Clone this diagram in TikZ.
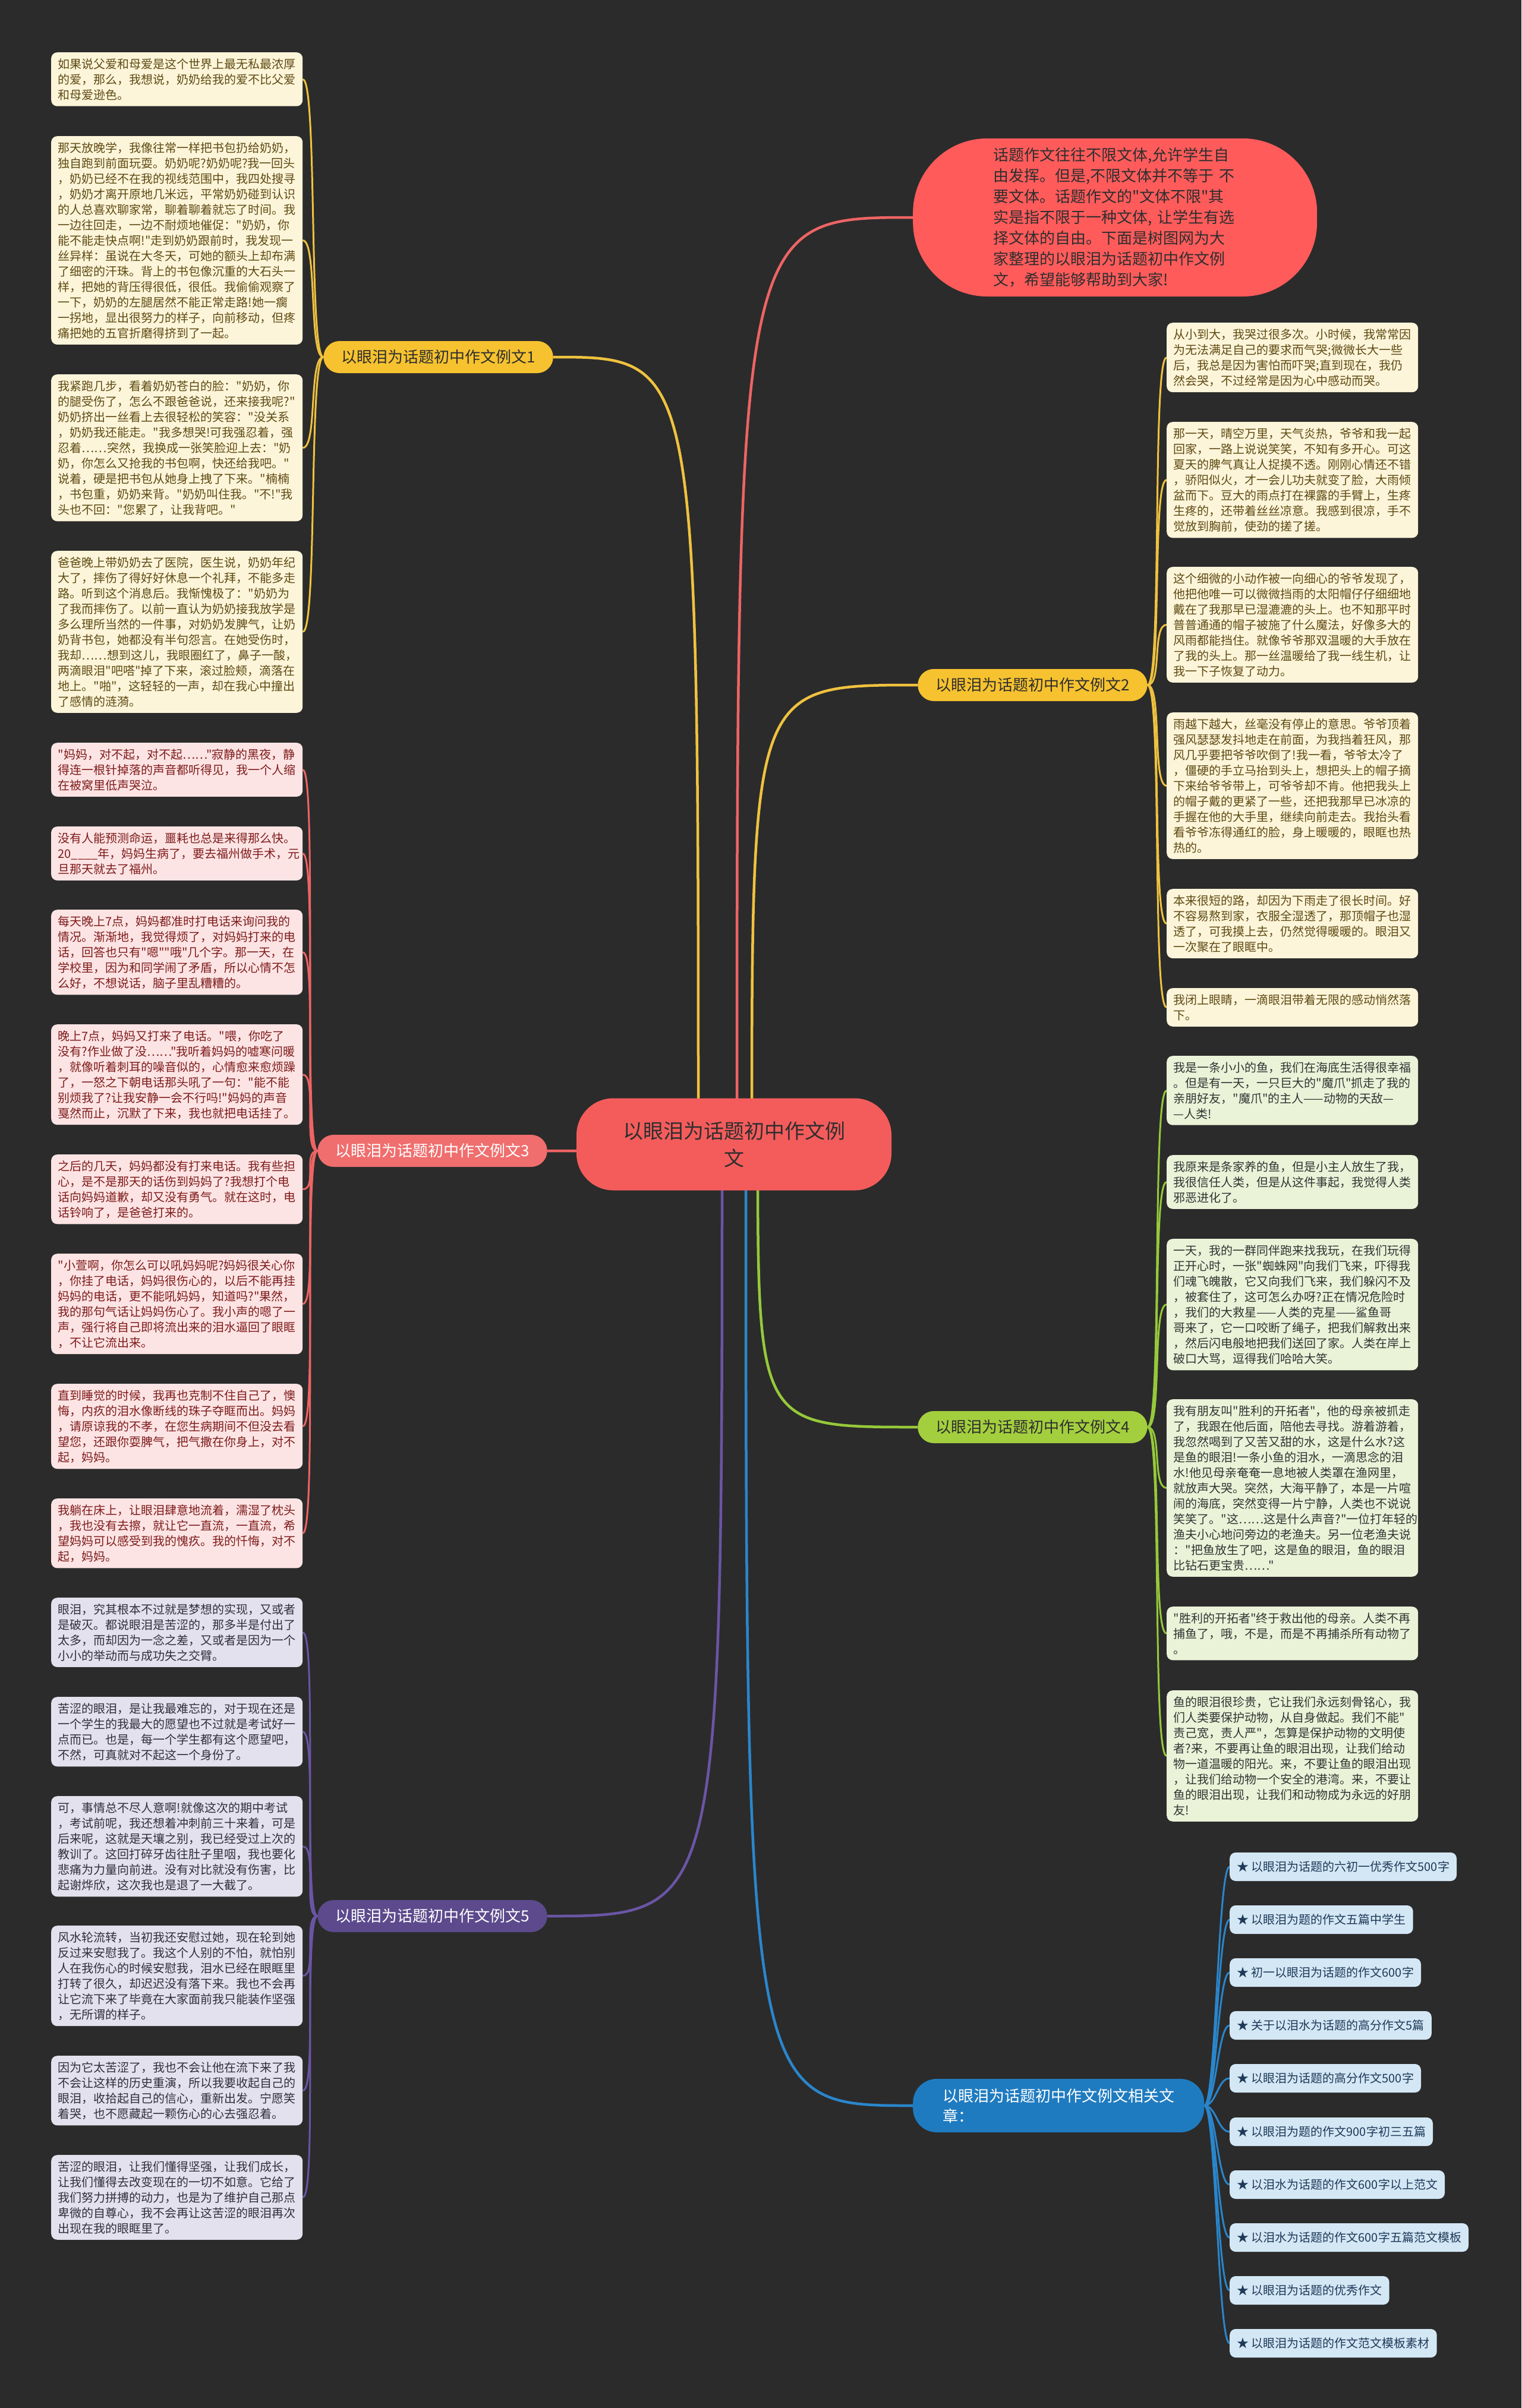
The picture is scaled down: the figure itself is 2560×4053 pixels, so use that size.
\documentclass[tikz,border=0pt]{standalone}
\usepackage{fontspec}
\setmainfont{Noto Sans CJK SC}[Ligatures=TeXOff]
\usetikzlibrary{calc}
\pgfdeclarelayer{background}
\pgfsetlayers{background,main}
\definecolor{bgdark}{HTML}{2B2B2B}
\definecolor{rootred}{HTML}{F45C5C}
\definecolor{introred}{HTML}{FF5B5B}
\definecolor{darktext}{HTML}{2E2E2E}
\definecolor{ylwlab}{HTML}{F6C22F}
\definecolor{ylwline}{HTML}{EFC23F}
\definecolor{ylwleaf}{HTML}{FDF5DA}
\definecolor{ylwtext}{HTML}{5E4A12}
\definecolor{redlab}{HTML}{F06E6E}
\definecolor{redline}{HTML}{EE6464}
\definecolor{redleaf}{HTML}{FDE4E4}
\definecolor{redtext}{HTML}{7E1B1B}
\definecolor{grnlab}{HTML}{A3CF3E}
\definecolor{grnline}{HTML}{96C93A}
\definecolor{grnleaf}{HTML}{EAF3D8}
\definecolor{grntext}{HTML}{333333}
\definecolor{purlab}{HTML}{5C4A8C}
\definecolor{purline}{HTML}{6A55A5}
\definecolor{purleaf}{HTML}{E4E1EE}
\definecolor{purtext}{HTML}{2F2F3A}
\definecolor{blulab}{HTML}{1F7BC0}
\definecolor{bluline}{HTML}{2A86CC}
\definecolor{bluleaf}{HTML}{D4E7F5}
\definecolor{blutext}{HTML}{1E3A58}
\tikzstyle{rootbox} = [fill=rootred, text=darktext, rounded corners=62pt,
  minimum width=530pt, minimum height=155pt, align=center,
  font=\fontsize{34}{46}\selectfont]
\tikzstyle{introbox} = [fill=introred, text=darktext, rounded corners=125pt,
  text width=410pt, inner xsep=135pt, minimum height=266pt, align=left,
  font=\fontsize{26}{35}\selectfont]
\tikzstyle{branch} = [rounded corners=27pt, minimum height=54pt, inner xsep=30pt,
  font=\fontsize{26}{34}\selectfont]
\tikzstyle{leaf} = [anchor=north west, rounded corners=10pt, text width=400pt,
  inner xsep=11.5pt, inner ysep=10pt, align=left,
  font=\fontsize{20}{26}\selectfont]
\tikzstyle{yleaf} = [leaf, fill=ylwleaf, text=ylwtext]
\tikzstyle{rleaf} = [leaf, fill=redleaf, text=redtext]
\tikzstyle{gleaf} = [leaf, fill=grnleaf, text=grntext]
\tikzstyle{pleaf} = [leaf, fill=purleaf, text=purtext]
\tikzstyle{item} = [anchor=west, fill=bluleaf, text=blutext, rounded corners=10pt,
  minimum height=48pt, inner xsep=12pt, font=\fontsize{20}{26}\selectfont]
\tikzstyle{limb} = [line width=4.5pt,
  to path={.. controls (\tikztostart |- \tikztotarget) .. (\tikztotarget)}]
\tikzstyle{twig} = [line width=3pt]
\begin{document}
\begin{tikzpicture}[x=1pt, y=-1pt]
    \node[rootbox] (root) at (1235,1926) {以眼泪为话题初中作文例\\文};
    \node[introbox, anchor=west] (intro) at (1536,366)
        {话题作文往往不限文体,允许学生自\\由发挥。但是,不限文体并不等于 不\\要文体。话题作文的"文体不限"其\\实是指不限于一种文体, 让学生有选\\择文体的自由。下面是树图网为大\\家整理的以眼泪为话题初中作文例\\文，希望能够帮助到大家!};

    \node[branch, fill=ylwlab, text=darktext, anchor=east] (ex1) at (931,601) {以眼泪为话题初中作文例文1};
    \node[branch, fill=ylwlab, text=darktext, anchor=west] (ex2) at (1544,1153) {以眼泪为话题初中作文例文2};
    \node[branch, fill=redlab, text=white, anchor=east] (ex3) at (921,1937) {以眼泪为话题初中作文例文3};
    \node[branch, fill=grnlab, text=darktext, anchor=west] (ex4) at (1544,2402) {以眼泪为话题初中作文例文4};
    \node[branch, fill=purlab, text=white, anchor=east] (ex5) at (921,3225) {以眼泪为话题初中作文例文5};
    \node[branch, fill=blulab, text=white, anchor=west, align=left, rounded corners=40pt,
        minimum height=90pt, inner xsep=50pt] (rel) at (1536,3544) {以眼泪为话题初中作文例文相关文\\章：};

    \node[yleaf] (a1) at (86,88) {如果说父爱和母爱是这个世界上最无私最浓厚\\的爱，那么，我想说，奶奶给我的爱不比父爱\\和母爱逊色。};
    \node[yleaf] (a2) at (86,229) {那天放晚学，我像往常一样把书包扔给奶奶，\\独自跑到前面玩耍。奶奶呢?奶奶呢?我一回头\\，奶奶已经不在我的视线范围中，我四处搜寻\\，奶奶才离开原地几米远，平常奶奶碰到认识\\的人总喜欢聊家常，聊着聊着就忘了时间。我\\一边往回走，一边不耐烦地催促："奶奶，你\\能不能走快点啊!"走到奶奶跟前时，我发现一\\丝异样：虽说在大冬天，可她的额头上却布满\\了细密的汗珠。背上的书包像沉重的大石头一\\样，把她的背压得很低，很低。我偷偷观察了\\一下，奶奶的左腿居然不能正常走路!她一瘸\\一拐地，显出很努力的样子，向前移动，但疼\\痛把她的五官折磨得挤到了一起。};
    \node[yleaf] (a3) at (86,630) {我紧跑几步，看着奶奶苍白的脸："奶奶，你\\的腿受伤了，怎么不跟爸爸说，还来接我呢?"\\奶奶挤出一丝看上去很轻松的笑容："没关系\\，奶奶我还能走。"我多想哭!可我强忍着，强\\忍着……突然，我换成一张笑脸迎上去："奶\\奶，你怎么又抢我的书包啊，快还给我吧。"\\说着，硬是把书包从她身上拽了下来。"楠楠\\，书包重，奶奶来背。"奶奶叫住我。"不!"我\\头也不回："您累了，让我背吧。"};
    \node[yleaf] (a4) at (86,927) {爸爸晚上带奶奶去了医院，医生说，奶奶年纪\\大了，摔伤了得好好休息一个礼拜，不能多走\\路。听到这个消息后。我惭愧极了："奶奶为\\了我而摔伤了。以前一直认为奶奶接我放学是\\多么理所当然的一件事，对奶奶发脾气，让奶\\奶背书包，她都没有半句怨言。在她受伤时，\\我却……想到这儿，我眼圈红了，鼻子一酸，\\两滴眼泪"吧嗒"掉了下来，滚过脸颊，滴落在\\地上。"啪"，这轻轻的一声，却在我心中撞出\\了感情的涟漪。};

    \node[rleaf] (b1) at (86,1250) {"妈妈，对不起，对不起……"寂静的黑夜，静\\得连一根针掉落的声音都听得见，我一个人缩\\在被窝里低声哭泣。};
    \node[rleaf] (b2) at (86,1391) {没有人能预测命运，噩耗也总是来得那么快。\\20\_\_\_\_年，妈妈生病了，要去福州做手术，元\\旦那天就去了福州。};
    \node[rleaf] (b3) at (86,1531) {每天晚上7点，妈妈都准时打电话来询问我的\\情况。渐渐地，我觉得烦了，对妈妈打来的电\\话，回答也只有"嗯""哦"几个字。那一天，在\\学校里，因为和同学闹了矛盾，所以心情不怎\\么好，不想说话，脑子里乱糟糟的。};
    \node[rleaf] (b4) at (86,1724) {晚上7点，妈妈又打来了电话。"喂，你吃了\\没有?作业做了没……"我听着妈妈的嘘寒问暖\\，就像听着刺耳的噪音似的，心情愈来愈烦躁\\了，一怒之下朝电话那头吼了一句："能不能\\别烦我了?让我安静一会不行吗!"妈妈的声音\\戛然而止，沉默了下来，我也就把电话挂了。};
    \node[rleaf] (b5) at (86,1943) {之后的几天，妈妈都没有打来电话。我有些担\\心，是不是那天的话伤到妈妈了?我想打个电\\话向妈妈道歉，却又没有勇气。就在这时，电\\话铃响了，是爸爸打来的。};
    \node[rleaf] (b6) at (86,2110) {"小萱啊，你怎么可以吼妈妈呢?妈妈很关心你\\，你挂了电话，妈妈很伤心的，以后不能再挂\\妈妈的电话，更不能吼妈妈，知道吗?"果然，\\我的那句气话让妈妈伤心了。我小声的嗯了一\\声，强行将自己即将流出来的泪水逼回了眼眶\\，不让它流出来。};
    \node[rleaf] (b7) at (86,2329) {直到睡觉的时候，我再也克制不住自己了，懊\\悔，内疚的泪水像断线的珠子夺眶而出。妈妈\\，请原谅我的不孝，在您生病期间不但没去看\\望您，还跟你耍脾气，把气撒在你身上，对不\\起，妈妈。};
    \node[rleaf] (b8) at (86,2522) {我躺在床上，让眼泪肆意地流着，濡湿了枕头\\，我也没有去擦，就让它一直流，一直流，希\\望妈妈可以感受到我的愧疚。我的忏悔，对不\\起，妈妈。};

    \node[pleaf] (c1) at (86,2689) {眼泪，究其根本不过就是梦想的实现，又或者\\是破灭。都说眼泪是苦涩的，那多半是付出了\\太多，而却因为一念之差，又或者是因为一个\\小小的举动而与成功失之交臂。};
    \node[pleaf] (c2) at (86,2856) {苦涩的眼泪，是让我最难忘的，对于现在还是\\一个学生的我最大的愿望也不过就是考试好一\\点而已。也是，每一个学生都有这个愿望吧，\\不然，可真就对不起这一个身份了。};
    \node[pleaf] (c3) at (86,3023) {可，事情总不尽人意啊!就像这次的期中考试\\，考试前呢，我还想着冲刺前三十来着，可是\\后来呢，这就是天壤之别，我已经受过上次的\\教训了。这回打碎牙齿往肚子里咽，我也要化\\悲痛为力量向前进。没有对比就没有伤害，比\\起谢烨欣，这次我也是退了一大截了。};
    \node[pleaf] (c4) at (86,3241) {风水轮流转，当初我还安慰过她，现在轮到她\\反过来安慰我了。我这个人别的不怕，就怕别\\人在我伤心的时候安慰我，泪水已经在眼眶里\\打转了很久，却迟迟没有落下来。我也不会再\\让它流下来了毕竟在大家面前我只能装作坚强\\，无所谓的样子。};
    \node[pleaf] (c5) at (86,3460) {因为它太苦涩了，我也不会让他在流下来了我\\不会让这样的历史重演，所以我要收起自己的\\眼泪，收拾起自己的信心，重新出发。宁愿笑\\着哭，也不愿藏起一颗伤心的心去强忍着。};
    \node[pleaf] (c6) at (86,3627) {苦涩的眼泪，让我们懂得坚强，让我们成长，\\让我们懂得去改变现在的一切不如意。它给了\\我们努力拼搏的动力，也是为了维护自己那点\\卑微的自尊心，我不会再让这苦涩的眼泪再次\\出现在我的眼眶里了。};

    \node[yleaf] (d1) at (1963,543) {从小到大，我哭过很多次。小时候，我常常因\\为无法满足自己的要求而气哭;微微长大一些\\后，我总是因为害怕而吓哭;直到现在，我仍\\然会哭，不过经常是因为心中感动而哭。};
    \node[yleaf] (d2) at (1963,710) {那一天，晴空万里，天气炎热，爷爷和我一起\\回家，一路上说说笑笑，不知有多开心。可这\\夏天的脾气真让人捉摸不透。刚刚心情还不错\\，骄阳似火，才一会儿功夫就变了脸，大雨倾\\盆而下。豆大的雨点打在裸露的手臂上，生疼\\生疼的，还带着丝丝凉意。我感到很凉，手不\\觉放到胸前，使劲的搓了搓。};
    \node[yleaf] (d3) at (1963,954) {这个细微的小动作被一向细心的爷爷发现了，\\他把他唯一可以微微挡雨的太阳帽仔仔细细地\\戴在了我那早已湿漉漉的头上。也不知那平时\\普普通通的帽子被施了什么魔法，好像多大的\\风雨都能挡住。就像爷爷那双温暖的大手放在\\了我的头上。那一丝温暖给了我一线生机，让\\我一下子恢复了动力。};
    \node[yleaf] (d4) at (1963,1199) {雨越下越大，丝毫没有停止的意思。爷爷顶着\\强风瑟瑟发抖地走在前面，为我挡着狂风，那\\风几乎要把爷爷吹倒了!我一看，爷爷太冷了\\，僵硬的手立马抬到头上，想把头上的帽子摘\\下来给爷爷带上，可爷爷却不肯。他把我头上\\的帽子戴的更紧了一些，还把我那早已冰凉的\\手握在他的大手里，继续向前走去。我抬头看\\看爷爷冻得通红的脸，身上暖暖的，眼眶也热\\热的。};
    \node[yleaf] (d5) at (1963,1496) {本来很短的路，却因为下雨走了很长时间。好\\不容易熬到家，衣服全湿透了，那顶帽子也湿\\透了，可我摸上去，仍然觉得暖暖的。眼泪又\\一次聚在了眼眶中。};
    \node[yleaf] (d6) at (1963,1663) {我闭上眼睛，一滴眼泪带着无限的感动悄然落\\下。};

    \node[gleaf] (e1) at (1963,1777) {我是一条小小的鱼，我们在海底生活得很幸福\\。但是有一天，一只巨大的"魔爪"抓走了我的\\亲朋好友，"魔爪"的主人——动物的天敌—\\—人类!};
    \node[gleaf] (e2) at (1963,1944) {我原来是条家养的鱼，但是小主人放生了我，\\我很信任人类，但是从这件事起，我觉得人类\\邪恶进化了。};
    \node[gleaf] (e3) at (1963,2085) {一天，我的一群同伴跑来找我玩，在我们玩得\\正开心时，一张"蜘蛛网"向我们飞来，吓得我\\们魂飞魄散，它又向我们飞来，我们躲闪不及\\，被套住了，这可怎么办呀?正在情况危险时\\，我们的大救星——人类的克星——鲨鱼哥\\哥来了，它一口咬断了绳子，把我们解救出来\\，然后闪电般地把我们送回了家。人类在岸上\\破口大骂，逗得我们哈哈大笑。};
    \node[gleaf] (e4) at (1963,2355) {我有朋友叫"胜利的开拓者"，他的母亲被抓走\\了，我跟在他后面，陪他去寻找。游着游着，\\我忽然喝到了又苦又甜的水，这是什么水?这\\是鱼的眼泪!一条小鱼的泪水，一滴思念的泪\\水!他见母亲奄奄一息地被人类罩在渔网里，\\就放声大哭。突然，大海平静了，本是一片喧\\闹的海底，突然变得一片宁静，人类也不说说\\笑笑了。"这……这是什么声音?"一位打年轻的\\渔夫小心地问旁边的老渔夫。另一位老渔夫说\\："把鱼放生了吧，这是鱼的眼泪，鱼的眼泪\\比钻石更宝贵……"};
    \node[gleaf] (e5) at (1963,2704) {"胜利的开拓者"终于救出他的母亲。人类不再\\捕鱼了，哦，不是，而是不再捕杀所有动物了\\。};
    \node[gleaf] (e6) at (1963,2845) {鱼的眼泪很珍贵，它让我们永远刻骨铭心，我\\们人类要保护动物，从自身做起。我们不能"\\责己宽，责人严"，怎算是保护动物的文明使\\者?来，不要再让鱼的眼泪出现，让我们给动\\物一道温暖的阳光。来，不要让鱼的眼泪出现\\，让我们给动物一个安全的港湾。来，不要让\\鱼的眼泪出现，让我们和动物成为永远的好朋\\友!};

    \node[item] (r1) at (2069,3142) {★ 以眼泪为话题的六初一优秀作文500字};
    \node[item] (r2) at (2069,3231) {★ 以眼泪为题的作文五篇中学生};
    \node[item] (r3) at (2069,3320) {★ 初一以眼泪为话题的作文600字};
    \node[item] (r4) at (2069,3409) {★ 关于以泪水为话题的高分作文5篇};
    \node[item] (r5) at (2069,3498) {★ 以眼泪为话题的高分作文500字};
    \node[item] (r6) at (2069,3588) {★ 以眼泪为题的作文900字初三五篇};
    \node[item] (r7) at (2069,3677) {★ 以泪水为话题的作文600字以上范文};
    \node[item] (r8) at (2069,3766) {★ 以泪水为话题的作文600字五篇范文模板};
    \node[item] (r9) at (2069,3855) {★ 以眼泪为话题的优秀作文};
    \node[item] (r10) at (2069,3944) {★ 以眼泪为话题的作文范文模板素材};

    \coordinate (s0) at (1240,1926);
    \coordinate (s1) at (1175,1926);
    \coordinate (s2) at (1265,1926);
    \coordinate (s4) at (1275,1926);
    \coordinate (s5) at (1215,1926);
    \coordinate (s6) at (1255,1926);

    \begin{pgfonlayer}{background}
    \fill[bgdark] (0,0) rectangle (2560,4053);
    \draw[limb, redline] (s0) to (intro.west);
    \draw[limb, ylwline] (s1) to (ex1.east);
    \draw[limb, ylwline] (s2) to (ex2.west);
    \draw[limb, redline] (root.center) to (ex3.east);
    \draw[limb, grnline] (s4) to (ex4.west);
    \draw[limb, purline] (s5) to (ex5.east);
    \draw[limb, bluline] (s6) to (rel.west);

    \draw[twig, ylwline] (ex1.west) .. controls +(-25,0) and +(25,0) .. (a1.east);
    \draw[twig, ylwline] (ex1.west) .. controls +(-25,0) and +(25,0) .. (a2.east);
    \draw[twig, ylwline] (ex1.west) .. controls +(-25,0) and +(25,0) .. (a3.east);
    \draw[twig, ylwline] (ex1.west) .. controls +(-25,0) and +(25,0) .. (a4.east);
    \draw[twig, redline] (ex3.west) .. controls +(-25,0) and +(25,0) .. (b1.east);
    \draw[twig, redline] (ex3.west) .. controls +(-25,0) and +(25,0) .. (b2.east);
    \draw[twig, redline] (ex3.west) .. controls +(-25,0) and +(25,0) .. (b3.east);
    \draw[twig, redline] (ex3.west) .. controls +(-25,0) and +(25,0) .. (b4.east);
    \draw[twig, redline] (ex3.west) .. controls +(-25,0) and +(25,0) .. (b5.east);
    \draw[twig, redline] (ex3.west) .. controls +(-25,0) and +(25,0) .. (b6.east);
    \draw[twig, redline] (ex3.west) .. controls +(-25,0) and +(25,0) .. (b7.east);
    \draw[twig, redline] (ex3.west) .. controls +(-25,0) and +(25,0) .. (b8.east);
    \draw[twig, purline] (ex5.west) .. controls +(-25,0) and +(25,0) .. (c1.east);
    \draw[twig, purline] (ex5.west) .. controls +(-25,0) and +(25,0) .. (c2.east);
    \draw[twig, purline] (ex5.west) .. controls +(-25,0) and +(25,0) .. (c3.east);
    \draw[twig, purline] (ex5.west) .. controls +(-25,0) and +(25,0) .. (c4.east);
    \draw[twig, purline] (ex5.west) .. controls +(-25,0) and +(25,0) .. (c5.east);
    \draw[twig, purline] (ex5.west) .. controls +(-25,0) and +(25,0) .. (c6.east);
    \draw[twig, ylwline] (ex2.east) .. controls +(25,0) and +(-25,0) .. (d1.west);
    \draw[twig, ylwline] (ex2.east) .. controls +(25,0) and +(-25,0) .. (d2.west);
    \draw[twig, ylwline] (ex2.east) .. controls +(25,0) and +(-25,0) .. (d3.west);
    \draw[twig, ylwline] (ex2.east) .. controls +(25,0) and +(-25,0) .. (d4.west);
    \draw[twig, ylwline] (ex2.east) .. controls +(25,0) and +(-25,0) .. (d5.west);
    \draw[twig, ylwline] (ex2.east) .. controls +(25,0) and +(-25,0) .. (d6.west);
    \draw[twig, grnline] (ex4.east) .. controls +(25,0) and +(-25,0) .. (e1.west);
    \draw[twig, grnline] (ex4.east) .. controls +(25,0) and +(-25,0) .. (e2.west);
    \draw[twig, grnline] (ex4.east) .. controls +(25,0) and +(-25,0) .. (e3.west);
    \draw[twig, grnline] (ex4.east) .. controls +(25,0) and +(-25,0) .. (e4.west);
    \draw[twig, grnline] (ex4.east) .. controls +(25,0) and +(-25,0) .. (e5.west);
    \draw[twig, grnline] (ex4.east) .. controls +(25,0) and +(-25,0) .. (e6.west);
    \draw[twig, bluline] (rel.east) .. controls +(20,0) and +(-20,0) .. (r1.west);
    \draw[twig, bluline] (rel.east) .. controls +(20,0) and +(-20,0) .. (r2.west);
    \draw[twig, bluline] (rel.east) .. controls +(20,0) and +(-20,0) .. (r3.west);
    \draw[twig, bluline] (rel.east) .. controls +(20,0) and +(-20,0) .. (r4.west);
    \draw[twig, bluline] (rel.east) .. controls +(20,0) and +(-20,0) .. (r5.west);
    \draw[twig, bluline] (rel.east) .. controls +(20,0) and +(-20,0) .. (r6.west);
    \draw[twig, bluline] (rel.east) .. controls +(20,0) and +(-20,0) .. (r7.west);
    \draw[twig, bluline] (rel.east) .. controls +(20,0) and +(-20,0) .. (r8.west);
    \draw[twig, bluline] (rel.east) .. controls +(20,0) and +(-20,0) .. (r9.west);
    \draw[twig, bluline] (rel.east) .. controls +(20,0) and +(-20,0) .. (r10.west);
    \end{pgfonlayer}
\end{tikzpicture}
\end{document}
